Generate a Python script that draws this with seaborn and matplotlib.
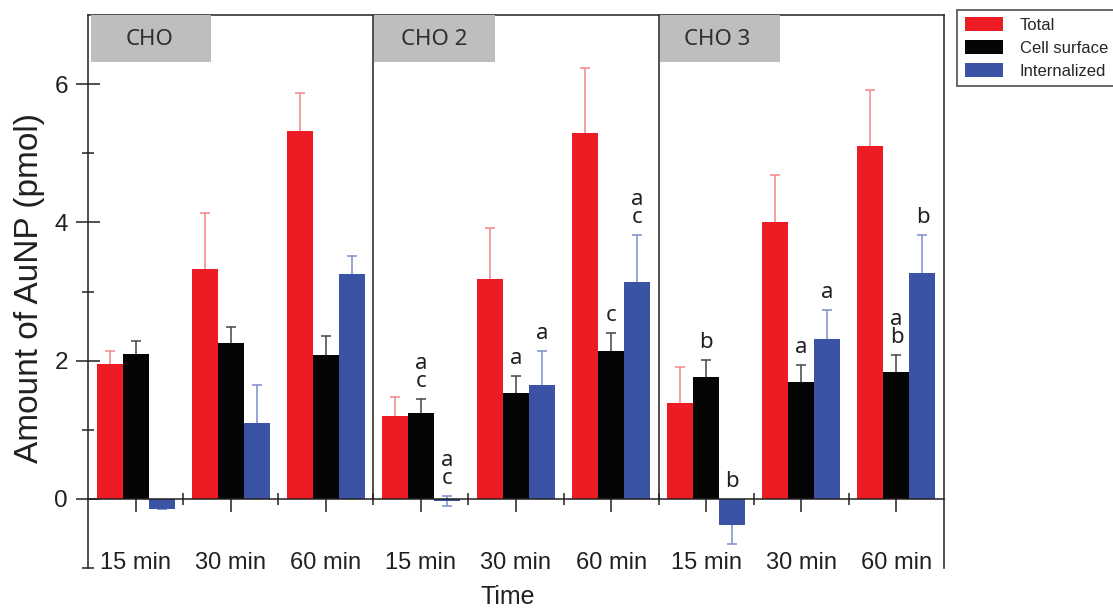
import numpy as np
import pandas as pd
import seaborn as sns
import matplotlib
matplotlib.use("Agg")
import matplotlib.pyplot as plt
from matplotlib.patches import Rectangle
from matplotlib.ticker import FixedLocator
from matplotlib.container import BarContainer

# ---------------- data ----------------
cell_lines = ["CHO", "CHO 2", "CHO 3"]
times = ["15 min", "30 min", "60 min"]
series = ["Total", "Cell surface", "Internalized"]

total = [1.95, 3.33, 5.32, 1.20, 3.18, 5.30, 1.39, 4.00, 5.11]
total_err = [0.19, 0.80, 0.55, 0.28, 0.74, 0.93, 0.52, 0.69, 0.80]
surface = [2.09, 2.25, 2.08, 1.24, 1.53, 2.14, 1.76, 1.69, 1.83]
surface_err = [0.19, 0.23, 0.27, 0.21, 0.25, 0.26, 0.25, 0.25, 0.25]
internal = [-0.15, 1.10, 3.25, -0.03, 1.65, 3.14, -0.38, 2.31, 3.27]
internal_err = [0.0, 0.55, 0.27, 0.07, 0.49, 0.68, 0.27, 0.42, 0.55]

# significance letters: (condition index, series index, text)
letters = [(3, 1, "a\nc"), (3, 2, "a\nc"), (4, 1, "a"), (4, 2, "a"),
           (5, 1, "c"), (5, 2, "a\nc"), (6, 1, "b"), (6, 2, "b"),
           (7, 1, "a"), (7, 2, "a"), (8, 1, "a\nb"), (8, 2, "b")]

bar_colors = ["#ED1C24", "#050505", "#3A53A4"]
err_colors = ["#F3868A", "#444444", "#7D8ECB"]
ink = "#231F20"

conds = [f"{c} {t}" for c in cell_lines for t in times]
values = [total, surface, internal]
errors = [total_err, surface_err, internal_err]

df = pd.DataFrame({
    "cond": np.tile(conds, len(series)),
    "series": np.repeat(series, len(conds)),
    "value": np.concatenate(values),
})

# ---------------- figure ----------------
sns.set_style("white")
plt.rcParams["font.family"] = ["Liberation Sans", "DejaVu Sans"]

fig = plt.figure(figsize=(11.13, 6.11), dpi=100)
ax = fig.add_axes([88 / 1113, 1 - 568 / 611, (944 - 88) / 1113, (568 - 15) / 611])

sns.barplot(data=df, x="cond", y="value", hue="series", order=conds,
            hue_order=series, palette=bar_colors, saturation=1, width=0.82,
            errorbar=None, linewidth=0, ax=ax, zorder=2)

leg = ax.get_legend()
handles = leg.legend_handles
labels = [t.get_text() for t in leg.get_texts()]
leg.remove()

bar_conts = [c for c in ax.containers if isinstance(c, BarContainer)]

# error bars (drawn behind bars)
for h, cont in enumerate(bar_conts):
    xs = [b.get_x() + b.get_width() / 2 for b in cont]
    ax.errorbar(xs, values[h], yerr=errors[h], fmt="none", ecolor=err_colors[h],
                elinewidth=1.1, capsize=3.6, capthick=1.1, zorder=1)

# letters
for ci, si, txt in letters:
    b = bar_conts[si][ci]
    xc = b.get_x() + b.get_width() / 2
    top = max(values[si][ci] + errors[si][ci], 0)
    ax.text(xc, top + 0.1, txt, ha="center", va="bottom", fontsize=16,
            linespacing=0.82, color="#231F20", family=["Noto Sans", "DejaVu Sans"])

ax.set_xlim(-0.5, len(conds) - 0.5)
ax.set_ylim(-1, 7)

# axes styling
for s in ["left", "right", "top", "bottom"]:
    ax.spines[s].set_visible(True)
    ax.spines[s].set_color(ink)
    ax.spines[s].set_linewidth(1.1)
ax.spines["bottom"].set_position(("data", 0))

ax.set_yticks([0, 2, 4, 6])
ax.yaxis.set_minor_locator(FixedLocator([-1, 1, 3, 5]))
ax.tick_params(axis="y", which="major", direction="inout", length=17, width=1.1,
               color=ink, labelsize=17.5, labelcolor=ink, pad=6, left=True)
ax.tick_params(axis="y", which="minor", direction="inout", length=9, width=1.1,
               color=ink, left=True)

ax.set_xticks(range(len(conds)))
ax.set_xticklabels(times * len(cell_lines))
ax.xaxis.set_minor_locator(FixedLocator(np.arange(0.5, len(conds) - 1, 1)))
ax.tick_params(axis="x", which="major", direction="out", length=9, width=1.1,
               color=ink, labelsize=17, labelcolor=ink, pad=29, bottom=True)
ax.tick_params(axis="x", which="minor", direction="inout", length=9, width=1.1,
               color=ink, bottom=True)

# panel dividers
for xd in [2.5, 5.5]:
    ax.axvline(xd, ymin=0.125, ymax=1, color=ink, lw=1.1, zorder=3)

# panel label boxes
boxes = [(0.0035, 0.1437, 0.0724), (0.334, 0.4755, 0.405), (0.668, 0.808, 0.735)]
for (x0, x1, xt), name in zip(boxes, cell_lines):
    ax.add_patch(Rectangle((x0, 0.915), x1 - x0, 0.085, transform=ax.transAxes,
                           facecolor="#BCBEC0", edgecolor="none", zorder=3))
    ax.text(xt, 0.955, name, transform=ax.transAxes, ha="center", va="center",
            fontsize=16, color="#2E2E2E", family=["Noto Sans", "DejaVu Sans"], zorder=4)

ax.set_ylabel("Amount of AuNP (pmol)", fontsize=24, color=ink)
ax.yaxis.set_label_coords(-0.050, 0.506)
ax.set_xlabel("Time", fontsize=18, color=ink)
ax.xaxis.set_label_coords(0.49, -0.031)
ax.xaxis.label.set_va("top")

lg = fig.legend(handles, labels, loc="upper left", bbox_to_anchor=(957 / 1113, 1 - 10 / 611),
                frameon=True, fancybox=False, edgecolor=ink, fontsize=12,
                handlelength=2.3, handleheight=0.85, handletextpad=1.0,
                labelspacing=0.45, borderpad=0.45, borderaxespad=0)
lg.get_frame().set_linewidth(1.2)

fig.savefig("out.png", dpi=100)
